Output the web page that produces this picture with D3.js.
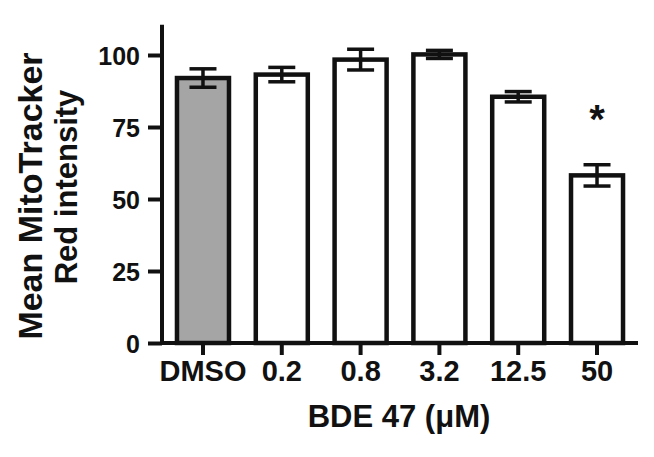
<!DOCTYPE html>
<html>
<head>
<meta charset="utf-8">
<script src="https://cdn.jsdelivr.net/npm/d3@7"></script>
<style>
  html, body { margin: 0; padding: 0; background: #fff; }
  svg { display: block; }
  text { font-family: "Liberation Sans", Arial, Helvetica, sans-serif; font-weight: bold; fill: #111; }
</style>
</head>
<body>
<svg id="chart" width="654" height="457"></svg>
<script>
const categories = ["DMSO", "0.2", "0.8", "3.2", "12.5", "50"];
const means = [92, 93.2, 98.4, 100.2, 85.5, 58.2];
const errors = [3.2, 2.5, 3.6, 1.4, 1.8, 3.7];
const fills = ["#a5a5a5", "#ffffff", "#ffffff", "#ffffff", "#ffffff", "#ffffff"];
const significant = [false, false, false, false, false, true];
const yTicks = [0, 25, 50, 75, 100];
const yTitleLines = ["Mean MitoTracker", "Red intensity"];
const xTitle = "BDE 47 (\u03BCM)";

const svg = d3.select("#chart");
const x0 = 162, x1 = 638, yBase = 343;

const x = d3.scaleBand().domain(categories).range([x0, x1]).paddingInner(0.34).paddingOuter(0.19);
const y = d3.scaleLinear().domain([0, 110]).range([yBase, yBase - 110 * 2.88]);

const data = categories.map((c, i) => ({c, m: means[i], e: errors[i], f: fills[i], s: significant[i]}));

// bars
svg.append("g").selectAll("rect").data(data).join("rect")
  .attr("x", d => x(d.c))
  .attr("y", d => y(d.m))
  .attr("width", x.bandwidth())
  .attr("height", d => y(0) - y(d.m))
  .attr("fill", d => d.f)
  .attr("stroke", "#111")
  .attr("stroke-width", 4.5);

// error bars
const eb = svg.append("g").attr("stroke", "#111").attr("stroke-width", 3.5);
const capW = 27;
data.forEach(d => {
  const cx = x(d.c) + x.bandwidth() / 2;
  eb.append("line").attr("x1", cx).attr("x2", cx).attr("y1", y(d.m + d.e)).attr("y2", y(d.m - d.e));
  eb.append("line").attr("x1", cx - capW / 2).attr("x2", cx + capW / 2).attr("y1", y(d.m + d.e)).attr("y2", y(d.m + d.e));
  eb.append("line").attr("x1", cx - capW / 2).attr("x2", cx + capW / 2).attr("y1", y(d.m - d.e)).attr("y2", y(d.m - d.e));
});

// significance stars
svg.append("g").selectAll("text").data(data.filter(d => d.s)).join("text")
  .attr("x", d => x(d.c) + x.bandwidth() / 2)
  .attr("y", d => y(d.m + d.e) - 32)
  .attr("text-anchor", "middle")
  .style("font-size", "40px")
  .text("*");

// y axis
const yAxis = d3.axisLeft(y).tickValues(yTicks).tickSize(14).tickPadding(8).tickSizeOuter(0);
const gy = svg.append("g").attr("transform", `translate(${x0},0)`).call(yAxis);
gy.select(".domain").attr("stroke", "#111").attr("stroke-width", 4).attr("d", `M0,${y(110.5)}V${yBase + 2}`);
gy.selectAll(".tick line").attr("stroke", "#111").attr("stroke-width", 4);
gy.selectAll(".tick text").style("font-size", "25px").style("font-family", "Liberation Sans, Arial, sans-serif").style("font-weight", "bold").attr("fill", "#111").attr("dy", "0.36em");

// x axis
const xAxis = d3.axisBottom(x).tickSize(12).tickPadding(5).tickSizeOuter(0);
const gx = svg.append("g").attr("transform", `translate(0,${yBase})`).call(xAxis);
gx.select(".domain").attr("stroke", "#111").attr("stroke-width", 4).attr("d", `M${x0 - 2},0H${x1}`);
gx.selectAll(".tick line").attr("stroke", "#111").attr("stroke-width", 4);
gx.selectAll(".tick text").style("font-size", "29px").style("font-family", "Liberation Sans, Arial, sans-serif").style("font-weight", "bold").attr("fill", "#111");

// axis titles
svg.append("text").attr("x", 399).attr("y", 427).attr("text-anchor", "middle")
  .style("font-size", "31px").text(xTitle);

const yTitleSizes = [34, 31];
const yTitleCenters = [196, 187];
const yTitleBase = [41.5, 76.5];
yTitleLines.forEach((t, i) => {
  svg.append("text")
    .attr("transform", `translate(${yTitleBase[i]},${yTitleCenters[i]}) rotate(-90)`)
    .attr("text-anchor", "middle")
    .style("font-size", yTitleSizes[i] + "px")
    .text(t);
});
</script>
</body>
</html>
